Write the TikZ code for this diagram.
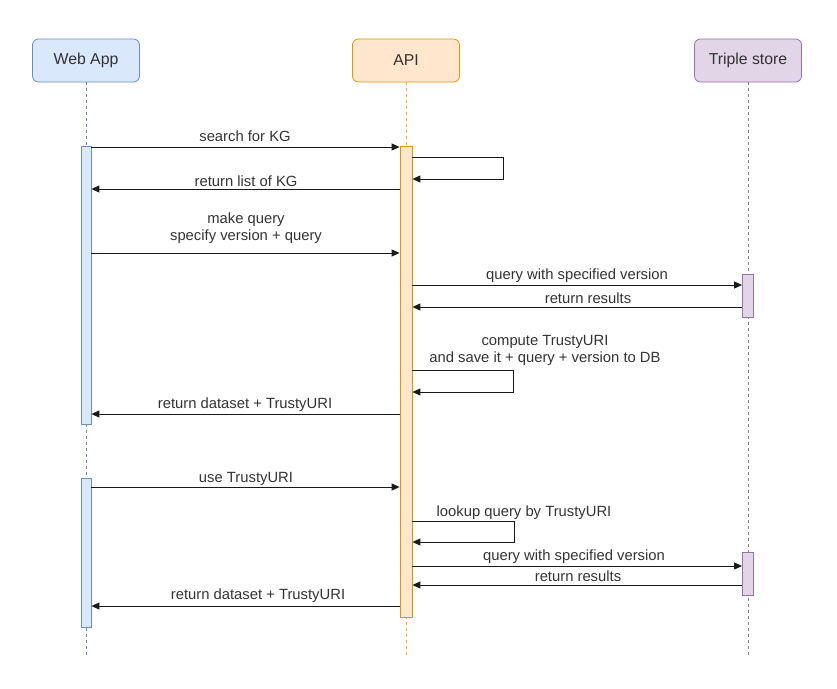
\documentclass[tikz,border=0pt]{standalone}
\usepackage{fontspec}
\setmainfont{Liberation Sans}
\usetikzlibrary{arrows.meta}
\definecolor{wafill}{HTML}{DAE8FC}
\definecolor{wadraw}{HTML}{6C8EBF}
\definecolor{apifill}{HTML}{FFE6CC}
\definecolor{apidraw}{HTML}{D79B00}
\definecolor{tsfill}{HTML}{E1D5E7}
\definecolor{tsdraw}{HTML}{9673A6}
\definecolor{txt}{HTML}{333333}
\definecolor{ln}{HTML}{1A1A1A}
\begin{document}
\begin{tikzpicture}[x=1pt,y=-1pt,
  hdr/.style={rounded corners=6pt, minimum width=107pt, minimum height=43pt,
    inner sep=0pt, line width=0.8pt, text=txt, font=\fontsize{15.8}{17}\selectfont},
  bar/.style={minimum width=11pt, inner sep=0pt, line width=0.8pt, rectangle},
  life/.style={dash pattern=on 3pt off 3pt, line width=0.8pt},
  msg/.style={draw=ln, line width=0.9pt, -{Triangle[length=8pt,width=7pt]}},
  lbl/.style={text=txt, inner sep=0pt, align=center, font=\fontsize{14.8}{17}\selectfont}]
\useasboundingbox (0,0) rectangle (837,688);

% headers
\node[hdr, fill=wafill, draw=wadraw] (wa) at (86,60.5) {Web App};
\node[hdr, fill=apifill, draw=apidraw] (api) at (406,60.5) {API};
\node[hdr, fill=tsfill, draw=tsdraw] (ts) at (748,60.5) {Triple store};

% lifeline ends
\coordinate (waend) at (86,656);
\coordinate (apiend) at (406,656);
\coordinate (tsend) at (748,656);
\draw[life, draw=wadraw!60!gray] (wa.south) -- (waend);
\draw[life, draw=apidraw!80] (api.south) -- (apiend);
\draw[life, draw=tsdraw!40!gray] (ts.south) -- (tsend);

% activation bars
\node[bar, minimum width=10pt, minimum height=278pt, fill=wafill, draw=wadraw] (wab1) at (86,285) {};
\node[bar, minimum width=10pt, minimum height=149pt, fill=wafill, draw=wadraw] (wab2) at (86,552.5) {};
\node[bar, minimum width=12pt, minimum height=471pt, fill=apifill, draw=apidraw] (apib) at (406,381.5) {};
\node[bar, minimum width=11pt, minimum height=43pt, fill=tsfill, draw=tsdraw] (tsb1) at (748,295.5) {};
\node[bar, minimum width=11pt, minimum height=43pt, fill=tsfill, draw=tsdraw] (tsb2) at (748,573.5) {};

% message heights
\coordinate (m1) at (0,147);
\coordinate (l1a) at (503,157);
\coordinate (l1b) at (503,179);
\coordinate (m3) at (0,189);
\coordinate (m4) at (0,253);
\coordinate (m5) at (0,285);
\coordinate (m6) at (0,307);
\coordinate (l2a) at (513,370);
\coordinate (l2b) at (513,392);
\coordinate (m8) at (0,414);
\coordinate (m9) at (0,487);
\coordinate (l3a) at (514,521);
\coordinate (l3b) at (514,542);
\coordinate (m11) at (0,566);
\coordinate (m12) at (0,585);
\coordinate (m13) at (0,606);

% messages
\draw[msg] (wab1.east |- m1) -- (apib.west |- m1);
\draw[msg] (apib.east |- l1a) -- (l1a) -- (l1b) -- (apib.east |- l1b);
\draw[msg] (apib.west |- m3) -- (wab1.east |- m3);
\draw[msg] (wab1.east |- m4) -- (apib.west |- m4);
\draw[msg] (apib.east |- m5) -- (tsb1.west |- m5);
\draw[msg] (tsb1.west |- m6) -- (apib.east |- m6);
\draw[msg] (apib.east |- l2a) -- (l2a) -- (l2b) -- (apib.east |- l2b);
\draw[msg] (apib.west |- m8) -- (wab1.east |- m8);
\draw[msg] (wab2.east |- m9) -- (apib.west |- m9);
\draw[msg] (apib.east |- l3a) -- (l3a) -- (l3b) -- (apib.east |- l3b);
\draw[msg] (apib.east |- m11) -- (tsb2.west |- m11);
\draw[msg] (tsb2.west |- m12) -- (apib.east |- m12);
\draw[msg] (apib.west |- m13) -- (wab2.east |- m13);

% labels
\node[lbl] (t1) at (245,136) {search for KG};
\node[lbl] (t3) at (246,181) {return list of KG};
\node[lbl] (t4) at (246,228.5) {make query\\specify version + query};
\node[lbl] (t5) at (577,276) {query with specified version};
\node[lbl] (t6) at (588,298) {return results};
\node[lbl] (t7) at (545,350.5) {compute TrustyURI\\and save it + query + version to DB};
\node[lbl] (t8) at (245,405) {return dataset + TrustyURI};
\node[lbl] (t9) at (246,479) {use TrustyURI};
\node[lbl] (t10) at (524,513) {lookup query by TrustyURI};
\node[lbl] (t11) at (574,557) {query with specified version};
\node[lbl] (t12) at (578,576) {return results};
\node[lbl] (t13) at (258,596) {return dataset + TrustyURI};
\end{tikzpicture}
\end{document}
